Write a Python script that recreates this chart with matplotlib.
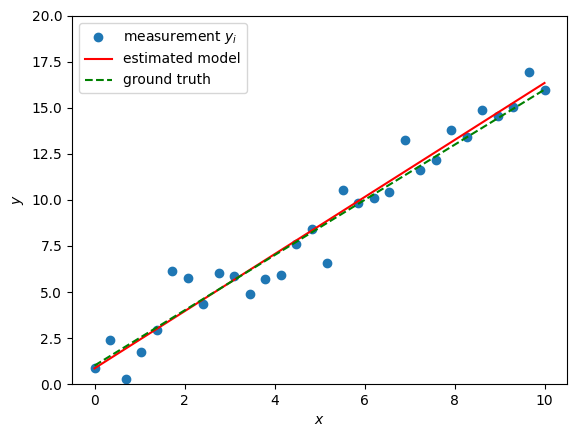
import matplotlib
matplotlib.use("Agg")
import matplotlib.pyplot as plt

# diem do (doc tu hinh)
x_meas = [0.0, 0.34, 0.69, 1.03, 1.38, 1.72, 2.07, 2.41, 2.76, 3.10,
          3.45, 3.79, 4.14, 4.48, 4.83, 5.17, 5.52, 5.86, 6.21, 6.55,
          6.90, 7.24, 7.59, 7.93, 8.28, 8.62, 8.97, 9.31, 9.66, 10.0]
y_meas = [0.88, 2.39, 0.27, 1.74, 2.93, 6.14, 5.76, 4.37, 6.01, 5.87,
          4.89, 5.69, 5.92, 7.59, 8.42, 6.56, 10.54, 9.82, 10.11, 10.42,
          13.26, 11.63, 12.17, 13.80, 13.41, 14.89, 14.57, 15.07, 16.94, 15.96]

# hai duong thang (2 dau mut)
x_line = [0.0, 10.0]
y_est = [0.85, 16.36]
y_true = [1.0, 16.0]

fig = plt.figure(figsize=(5.77, 4.38), dpi=100)
ax = fig.add_axes([72 / 577, 1 - 384 / 438, (567 - 72) / 577, (384 - 16) / 438])

ax.scatter(x_meas, y_meas, label="measurement $y_i$")
ax.plot(x_line, y_est, color="red", label="estimated model")
ax.plot(x_line, y_true, "g--", label="ground truth")

ax.set_xlim(-0.5, 10.5)
ax.set_ylim(0, 20)
ax.set_xlabel("$x$")
ax.set_ylabel("$y$")
ax.legend(loc="upper left")

fig.savefig("out.png", dpi=100)
